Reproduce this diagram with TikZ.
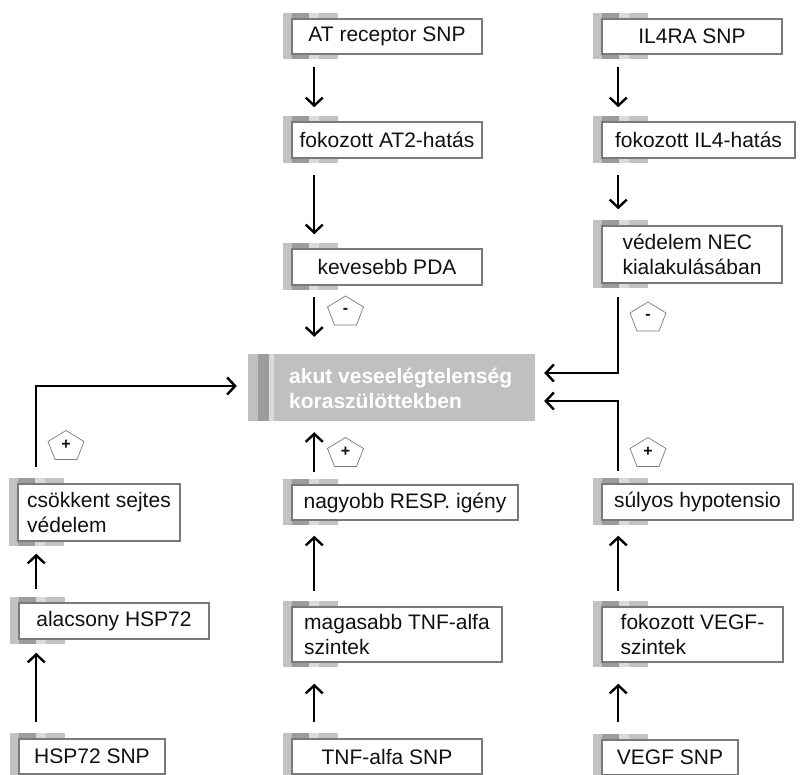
\documentclass[tikz,border=0pt]{standalone}
\usepackage{fontspec}
\setmainfont{Liberation Sans}
\usetikzlibrary{arrows.meta,shapes.geometric,calc}
\definecolor{stlg}{HTML}{C2C2C2}
\definecolor{stdk}{HTML}{9C9C9C}
\definecolor{stvl}{HTML}{DADADA}
\definecolor{stmd}{HTML}{C2C2C2}
\definecolor{bordc}{HTML}{7A7A7A}
\definecolor{centc}{HTML}{C0C0C0}
\definecolor{txtc}{HTML}{111111}
\tikzset{
  wbox/.style={draw=bordc, line width=1.5pt, fill=white, inner xsep=2pt, inner ysep=0pt,
    align=left, text=txtc, font=\fontsize{21}{25}\selectfont},
  arr/.style={line width=2pt, -{Straight Barb[length=8pt,width=17pt,line width=2.4pt]}},
  pentline/.style={draw=bordc, line width=0.7pt, fill=white},
  signf/.style={inner sep=0pt, font=\bfseries\fontsize{16}{16}\selectfont, text=txtc},
}
\newcommand\stripebox[6]{%
  \fill[stlg] (#2-9,#3-6) rectangle (#2,#3+#5+5);
  \fill[stdk] (#2,#3-6) rectangle (#2+17,#3+#5+5);
  \fill[stvl] (#2+17,#3-6) rectangle (#2+27,#3+#5+5);
  \fill[stmd] (#2+27,#3-6) rectangle (#2+46,#3+#5+5);
  \node[wbox, minimum width=#4pt, minimum height=#5pt] (#1) at (#2+#4/2,#3+#5/2) {#6};
}
\newcommand\pentsign[4]{%
  \coordinate (#1c) at (#2,#3);
  \draw[pentline] ($(#1c)+(0,-14.5)$) -- ($(#1c)+(18,-3.5)$) -- ($(#1c)+(11,14.5)$)
     -- ($(#1c)+(-11,14.5)$) -- ($(#1c)+(-18,-3.5)$) -- cycle;
  \node[signf] (#1) at (#1c) {#4};
}
\begin{document}
\begin{tikzpicture}[x=1pt,y=-1pt]
\useasboundingbox (0,0) rectangle (804,775);
\fill[white] (0,0) rectangle (804,775);

% middle column
\stripebox{at}{292}{19}{190}{35}{AT receptor SNP}
\stripebox{at2}{292}{122}{190}{36}{fokozott AT2-hatás}
\stripebox{pda}{292}{249}{190}{36}{kevesebb PDA}
\stripebox{res}{292}{485}{226}{35}{nagyobb RESP. igény}
\stripebox{mag}{292}{607}{210}{55}{magasabb TNF-alfa\\szintek}
\stripebox{tsnp}{292}{739}{190}{35}{TNF-alfa SNP}

% right column
\stripebox{il4ra}{602}{19}{180}{35}{IL4RA SNP}
\stripebox{il4}{602}{122}{193}{36}{fokozott IL4-hatás}
\stripebox{nec}{602}{226}{180}{57}{védelem NEC\\kialakulásában}
\stripebox{sul}{602}{484}{191}{36}{súlyos hypotensio}
\stripebox{vsz}{602}{607}{181}{55}{fokozott VEGF-\\szintek}
\stripebox{vsnp}{602}{740}{136}{35}{VEGF SNP}

% left column
\stripebox{csk}{18}{484}{162}{57}{csökkent sejtes\\védelem}
\stripebox{alac}{19}{603}{190}{36}{alacsony HSP72}
\stripebox{hsnp}{19}{739}{146}{35}{HSP72 SNP}

% central box
\node[fill=centc, minimum width=287pt, minimum height=67pt, inner sep=0pt] (cen) at (391.5,387.5) {};
\fill[stdk] (258,354) rectangle (269,421);
\fill[stvl] (269,354) rectangle (274,421);
\node[anchor=west, inner sep=0pt, align=left, text=white, font=\bfseries\fontsize{21}{25}\selectfont] (centxt) at (289,388) {akut veseelégtelenség\\koraszülöttekben};

% arrows middle column
\draw[arr, shorten <=12pt, shorten >=14pt] ([xshift=23pt]at.south west) -- ([xshift=23pt]at2.north west);
\draw[arr, shorten <=16pt, shorten >=14pt] ([xshift=23pt]at2.south west) -- ([xshift=23pt]pda.north west);
\draw[arr, shorten <=11pt, shorten >=17pt] ([xshift=23pt]pda.south west) -- ([xshift=23pt]pda.south west |- cen.north);
\draw[arr, shorten <=12pt, shorten >=11pt] ([xshift=23pt]res.north west) -- ([xshift=23pt]res.north west |- cen.south);
\draw[arr, shorten <=15pt, shorten >=15pt] ([xshift=23pt]mag.north west) -- ([xshift=23pt]res.south west);
\draw[arr, shorten <=16pt, shorten >=21pt] ([xshift=23pt]tsnp.north west) -- ([xshift=23pt]mag.south west);

% arrows right column
\draw[arr, shorten <=12pt, shorten >=14pt] ([xshift=17pt]il4ra.south west) -- ([xshift=17pt]il4.north west);
\draw[arr, shorten <=16pt, shorten >=16pt] ([xshift=17pt]il4.south west) -- ([xshift=17pt]nec.north west);
\draw[arr, shorten <=13pt, shorten >=9pt] ([xshift=17pt]nec.south west) |- ([yshift=14.5pt]cen.east);
\draw[arr, shorten <=12pt, shorten >=9pt] ([xshift=17pt]sul.north west) |- ([yshift=-13.5pt]cen.east);
\draw[arr, shorten <=15pt, shorten >=15pt] ([xshift=17pt]vsz.north west) -- ([xshift=17pt]sul.south west);
\draw[arr, shorten <=17pt, shorten >=21pt] ([xshift=17pt]vsnp.north west) -- ([xshift=17pt]vsz.south west);

% arrows left column
\draw[arr, shorten <=16pt, shorten >=11pt] ([xshift=19pt]csk.north west) |- ([yshift=1.5pt]cen.west);
\draw[arr, shorten <=13pt, shorten >=12pt] ([xshift=18pt]alac.north west) -- ([xshift=18pt]alac.north west |- csk.south);
\draw[arr, shorten <=16pt, shorten >=13pt] ([xshift=18pt]hsnp.north west) -- ([xshift=18pt]alac.south west);

% sign pentagons
\pentsign{pl}{66}{445}{+}
\pentsign{pma}{345.5}{310.5}{-}
\pentsign{pmb}{345.5}{452}{+}
\pentsign{pra}{648}{316.5}{-}
\pentsign{prb}{648}{452}{+}
\end{tikzpicture}
\end{document}
